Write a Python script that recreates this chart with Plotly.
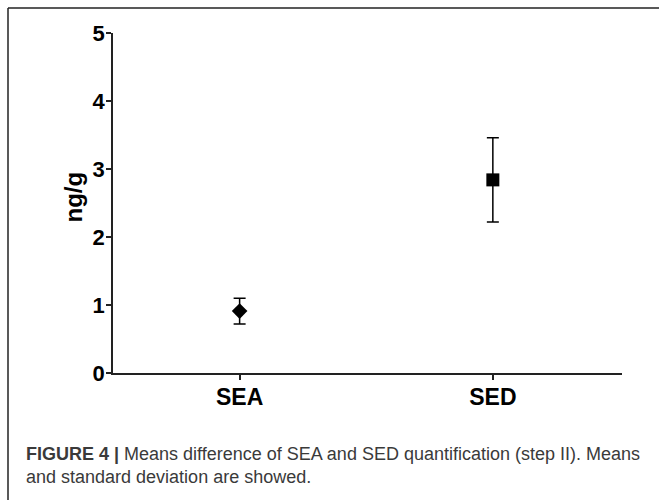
import plotly.graph_objects as go

categories = ["SEA", "SED"]
means = [0.91, 2.84]
sds = [0.19, 0.62]
symbols = ["diamond", "square"]
marker_sizes = [12, 13]
y_ticks = [0, 1, 2, 3, 4, 5]
y_title = "ng/g"
caption_bold = "FIGURE 4 |"
caption_line1 = " Means difference of SEA and SED quantification (step II). Means"
caption_line2 = "and standard deviation are showed."

W, H = 659, 500
L, R, T, B = 113, 37, 33, 127
pw, ph = W - L - R, H - T - B

def px(x):
    return (x - L) / pw

def py(y):
    return (H - B - y) / ph

fig = go.Figure()
for i, c in enumerate(categories):
    fig.add_trace(go.Scatter(
        x=[c], y=[means[i]],
        mode="markers",
        marker=dict(symbol=symbols[i], size=marker_sizes[i], color="black"),
        error_y=dict(type="data", array=[sds[i]], visible=True,
                     color="black", thickness=1.5, width=6),
        showlegend=False,
    ))

fig.update_layout(
    width=W, height=H,
    margin=dict(l=L, r=R, t=T, b=B),
    paper_bgcolor="white", plot_bgcolor="white",
    font=dict(family="Liberation Sans, Arial, sans-serif", color="black"),
    xaxis=dict(
        type="category", range=[-0.5, 1.51],
        showline=True, linecolor="#222", linewidth=1.5,
        ticks="outside", ticklen=5, tickwidth=1.5, tickcolor="#222",
        tickfont=dict(size=23, weight="bold", color="black"),
        ticklabelstandoff=-2,
        showgrid=False, zeroline=False,
    ),
    yaxis=dict(
        range=[0, 5], tickvals=y_ticks,
        showline=True, linecolor="#222", linewidth=1.5,
        ticks="outside", ticklen=5, tickwidth=1.5, tickcolor="#222",
        tickfont=dict(size=22, weight="bold", color="black"),
        ticklabelstandoff=-3,
        showgrid=False, zeroline=False,
    ),
    shapes=[
        dict(type="line", xref="paper", yref="paper",
             x0=px(8), x1=px(W + 2), y0=py(8), y1=py(8),
             line=dict(color="#222", width=1.5)),
        dict(type="line", xref="paper", yref="paper",
             x0=px(8), x1=px(8), y0=py(8), y1=py(H + 2),
             line=dict(color="#222", width=1.5)),
    ],
    annotations=[
        dict(text="<b>" + y_title + "</b>", textangle=-90,
             xref="paper", yref="paper", x=px(58), y=py(197),
             showarrow=False, font=dict(size=24, color="black")),
        dict(text="<b>" + caption_bold + "</b>" + caption_line1,
             xref="paper", yref="paper", x=px(24), y=py(454),
             xanchor="left", yanchor="middle", showarrow=False,
             font=dict(size=18, color="#3a3a3a")),
        dict(text=caption_line2,
             xref="paper", yref="paper", x=px(24), y=py(477),
             xanchor="left", yanchor="middle", showarrow=False,
             font=dict(size=18, color="#3a3a3a")),
    ],
)

fig.write_html("out.html",
               config={"displayModeBar": False},
               post_script="document.body.style.margin='0';document.body.style.overflow='hidden';")
